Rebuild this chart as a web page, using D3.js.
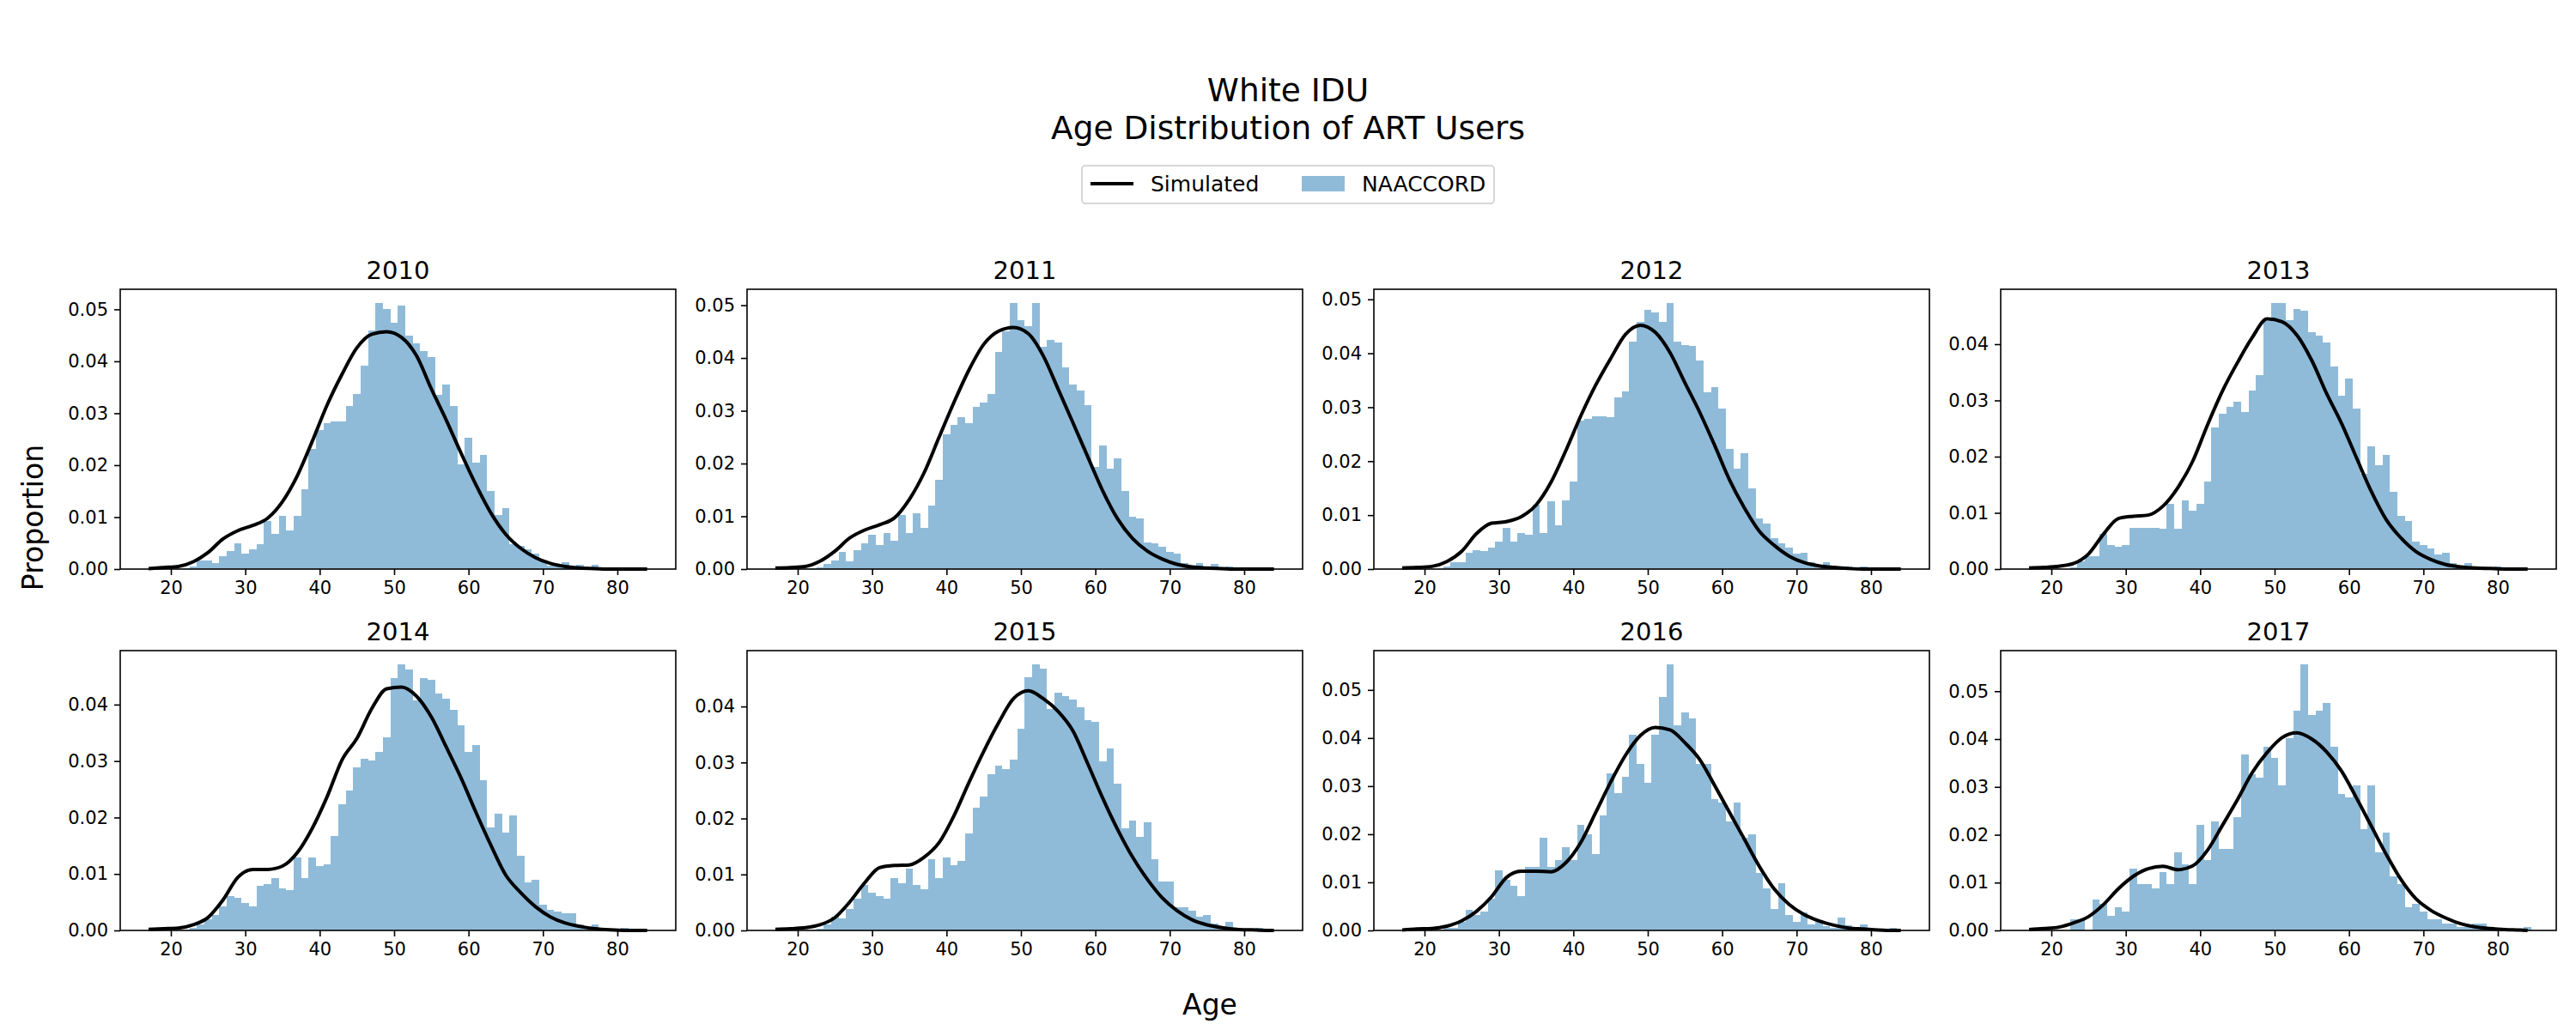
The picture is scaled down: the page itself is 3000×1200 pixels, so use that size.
<!DOCTYPE html>
<html>
<head>
<meta charset="utf-8">
<script src="https://cdn.jsdelivr.net/npm/d3@7"></script>
<style>
  body { margin: 0; background: #fff; }
  text { font-family: "DejaVu Sans", sans-serif; }
</style>
</head>
<body>
<div id="chart"></div>
<script>
// Years shown, one panel each
const years = [2010, 2011, 2012, 2013, 2014, 2015, 2016, 2017];

// Histogram bins (1-year, centred on the age)
const binAges = [18, 19, 20, 21, 22, 23, 24, 25, 26, 27,
                 28, 29, 30, 31, 32, 33, 34, 35, 36, 37,
                 38, 39, 40, 41, 42, 43, 44, 45, 46, 47,
                 48, 49, 50, 51, 52, 53, 54, 55, 56, 57,
                 58, 59, 60, 61, 62, 63, 64, 65, 66, 67,
                 68, 69, 70, 71, 72, 73, 74, 75, 76, 77,
                 78, 79, 80, 81, 82, 83, 84];

// NAACCORD proportions per age bin
const naaccord2010 = [0, 0, 0, 0, 0.0002, 0.0005, 0.0017, 0.0017, 0.0012, 0.0024,
                      0.0035, 0.0050, 0.0030, 0.0038, 0.0048, 0.0093, 0.0068, 0.0102, 0.0075, 0.0103,
                      0.0154, 0.0231, 0.0267, 0.0281, 0.0285, 0.0285, 0.0314, 0.0337, 0.0391, 0.0459,
                      0.0513, 0.0500, 0.0474, 0.0507, 0.0449, 0.0434, 0.0419, 0.0408, 0.0335, 0.0355,
                      0.0314, 0.0202, 0.0253, 0.0205, 0.0220, 0.0151, 0.0104, 0.0118, 0.0048, 0.0045,
                      0.0038, 0.0030, 0.0015, 0.0007, 0.0005, 0.0014, 0.0004, 0.0009, 0.0003, 0.0009,
                      0.0002, 0, 0, 0, 0, 0, 0];
const naaccord2011 = [0, 0, 0, 0, 0.0002, 0.0003, 0.0009, 0.0017, 0.0033, 0.0015,
                      0.0036, 0.0049, 0.0065, 0.0045, 0.0069, 0.0054, 0.0103, 0.0069, 0.0106, 0.0078,
                      0.0121, 0.0169, 0.0255, 0.0273, 0.0288, 0.0276, 0.0307, 0.0315, 0.0331, 0.0412,
                      0.0450, 0.0505, 0.0471, 0.0461, 0.0505, 0.0422, 0.0435, 0.0429, 0.0383, 0.0349,
                      0.0338, 0.0310, 0.0194, 0.0234, 0.0190, 0.0210, 0.0148, 0.0099, 0.0096, 0.0051,
                      0.0048, 0.0043, 0.0033, 0.0030, 0.0012, 0.0005, 0.0012, 0.0004, 0.0009, 0.0003,
                      0.0005, 0, 0, 0, 0, 0, 0];
const naaccord2012 = [0, 0, 0, 0, 0, 0.0005, 0.0012, 0.0012, 0.0030, 0.0035,
                      0.0034, 0.0039, 0.0051, 0.0077, 0.0051, 0.0067, 0.0064, 0.0119, 0.0067, 0.0126,
                      0.0081, 0.0127, 0.0162, 0.0275, 0.0278, 0.0284, 0.0284, 0.0281, 0.0318, 0.0330,
                      0.0422, 0.0459, 0.0481, 0.0475, 0.0459, 0.0494, 0.0422, 0.0416, 0.0413, 0.0386,
                      0.0327, 0.0337, 0.0297, 0.0223, 0.0186, 0.0215, 0.0149, 0.0094, 0.0084, 0.0057,
                      0.0048, 0.0039, 0.0028, 0.0031, 0.0012, 0.0007, 0.0012, 0.0004, 0.0003, 0.0004,
                      0.0003, 0.0005, 0, 0, 0, 0, 0];
const naaccord2013 = [0, 0, 0, 0, 0, 0.0003, 0.0014, 0.0023, 0.0023, 0.0062,
                      0.0043, 0.0040, 0.0043, 0.0074, 0.0074, 0.0074, 0.0074, 0.0071, 0.0116, 0.0071,
                      0.0122, 0.0104, 0.0116, 0.0156, 0.0252, 0.0276, 0.0288, 0.0297, 0.0279, 0.0317,
                      0.0345, 0.0441, 0.0474, 0.0474, 0.0442, 0.0462, 0.0459, 0.0421, 0.0415, 0.0403,
                      0.0360, 0.0308, 0.0339, 0.0285, 0.0169, 0.0218, 0.0185, 0.0203, 0.0138, 0.0095,
                      0.0086, 0.0049, 0.0043, 0.0037, 0.0026, 0.0029, 0.0011, 0.0005, 0.0011, 0.0004,
                      0.0004, 0.0003, 0.0005, 0, 0, 0, 0];
const naaccord2014 = [0, 0, 0, 0, 0, 0.0004, 0.0011, 0.0020, 0.0028, 0.0043,
                      0.0061, 0.0058, 0.0049, 0.0043, 0.0079, 0.0082, 0.0093, 0.0074, 0.0071, 0.0129,
                      0.0093, 0.0129, 0.0114, 0.0117, 0.0167, 0.0224, 0.0248, 0.0289, 0.0304, 0.0301,
                      0.0316, 0.0342, 0.0447, 0.0472, 0.0462, 0.0407, 0.0447, 0.0444, 0.0419, 0.0410,
                      0.0390, 0.0363, 0.0316, 0.0328, 0.0266, 0.0183, 0.0207, 0.0173, 0.0203, 0.0132,
                      0.0085, 0.0090, 0.0046, 0.0037, 0.0034, 0.0031, 0.0031, 0.0011, 0.0003, 0.0011,
                      0.0002, 0.0001, 0.0001, 0.0005, 0, 0, 0];
const naaccord2015 = [0, 0, 0, 0, 0, 0.0003, 0.0010, 0.0025, 0.0022, 0.0039,
                      0.0056, 0.0082, 0.0068, 0.0062, 0.0056, 0.0094, 0.0085, 0.0111, 0.0082, 0.0074,
                      0.0127, 0.0094, 0.0130, 0.0117, 0.0124, 0.0173, 0.0219, 0.0239, 0.0279, 0.0294,
                      0.0288, 0.0305, 0.0360, 0.0453, 0.0476, 0.0468, 0.0396, 0.0425, 0.0419, 0.0413,
                      0.0399, 0.0376, 0.0373, 0.0302, 0.0325, 0.0262, 0.0182, 0.0196, 0.0167, 0.0193,
                      0.0127, 0.0087, 0.0087, 0.0042, 0.0042, 0.0036, 0.0025, 0.0028, 0.0013, 0.0005,
                      0.0016, 0.0002, 0.0001, 0.0001, 0.0005, 0, 0];
const naaccord2016 = [0, 0, 0, 0, 0, 0.0005, 0.0006, 0.0018, 0.0043, 0.0033,
                      0.0040, 0.0066, 0.0125, 0.0105, 0.0093, 0.0072, 0.0132, 0.0132, 0.0193, 0.0132,
                      0.0147, 0.0173, 0.0147, 0.0220, 0.0200, 0.0159, 0.0239, 0.0326, 0.0285, 0.0319,
                      0.0406, 0.0346, 0.0307, 0.0406, 0.0486, 0.0554, 0.0426, 0.0453, 0.0440, 0.0346,
                      0.0346, 0.0273, 0.0266, 0.0226, 0.0266, 0.0193, 0.0200, 0.0120, 0.0087, 0.0045,
                      0.0098, 0.0033, 0.0018, 0.0038, 0.0013, 0.0022, 0.0009, 0.0006, 0.0026, 0.0011,
                      0.0006, 0.0013, 0.0001, 0, 0, 0.0006, 0];
const naaccord2017 = [0, 0, 0, 0, 0, 0.0024, 0.0024, 0, 0.0065, 0.0056,
                      0.0031, 0.0049, 0.0040, 0.0129, 0.0097, 0.0097, 0.0088, 0.0122, 0.0097, 0.0163,
                      0.0138, 0.0097, 0.0221, 0.0147, 0.0228, 0.0171, 0.0171, 0.0237, 0.0367, 0.0326,
                      0.0319, 0.0384, 0.0360, 0.0303, 0.0402, 0.0459, 0.0557, 0.0450, 0.0459, 0.0475,
                      0.0384, 0.0285, 0.0278, 0.0303, 0.0212, 0.0303, 0.0163, 0.0205, 0.0113, 0.0097,
                      0.0049, 0.0056, 0.0040, 0.0024, 0.0024, 0.0015, 0.0015, 0.0008, 0.0008, 0.0015,
                      0.0015, 0.0008, 0.0002, 0, 0, 0, 0.0008];

// Ages where the simulated density curve was read
const simAges = [17, 19, 21, 23, 25, 27, 29, 31, 33, 35, 37, 39, 41, 43, 45, 47, 49,
                 51, 53, 55, 57, 59, 61, 63, 65, 67, 69, 71, 73, 75, 77, 79, 81, 83, 84];

// Simulated density per year
const sim2010 = [0.0001, 0.0003, 0.0005, 0.0014, 0.0032, 0.0058, 0.0074, 0.0084, 0.0098, 0.0130, 0.0180, 0.0246,
                 0.0316, 0.0375, 0.0426, 0.0452, 0.0457, 0.0446, 0.0411, 0.0347, 0.0287, 0.0223, 0.0162, 0.0108,
                 0.0067, 0.0040, 0.0022, 0.0011, 0.0005, 0.0002, 0.0001, 0, 0, 0, 0];
const sim2011 = [0.0002, 0.0003, 0.0005, 0.0015, 0.0034, 0.0059, 0.0074, 0.0084, 0.0097, 0.0132, 0.0183, 0.0250,
                 0.0316, 0.0377, 0.0426, 0.0451, 0.0458, 0.0446, 0.0404, 0.0341, 0.0277, 0.0212, 0.0148, 0.0095,
                 0.0058, 0.0034, 0.0019, 0.0009, 0.0004, 0.0002, 0.0001, 0, 0, 0, 0];
const sim2012 = [0.0002, 0.0003, 0.0005, 0.0014, 0.0033, 0.0066, 0.0085, 0.0088, 0.0097, 0.0119, 0.0161, 0.0220,
                 0.0284, 0.0341, 0.0390, 0.0435, 0.0452, 0.0439, 0.0401, 0.0345, 0.0290, 0.0229, 0.0165, 0.0113,
                 0.0070, 0.0044, 0.0024, 0.0012, 0.0006, 0.0003, 0.0001, 0, 0, 0, 0];
const sim2013 = [0.0002, 0.0003, 0.0005, 0.0010, 0.0027, 0.0062, 0.0090, 0.0094, 0.0096, 0.0112, 0.0145, 0.0192,
                 0.0257, 0.0317, 0.0367, 0.0412, 0.0445, 0.0440, 0.0416, 0.0371, 0.0312, 0.0259, 0.0198, 0.0138,
                 0.0088, 0.0055, 0.0031, 0.0017, 0.0008, 0.0004, 0.0002, 0.0001, 0, 0, 0];
const sim2014 = [0.0002, 0.0003, 0.0004, 0.0010, 0.0023, 0.0054, 0.0094, 0.0108, 0.0108, 0.0114, 0.0138, 0.0181,
                 0.0237, 0.0302, 0.0340, 0.0393, 0.0428, 0.0431, 0.0415, 0.0378, 0.0325, 0.0270, 0.0209, 0.0151,
                 0.0098, 0.0067, 0.0042, 0.0024, 0.0013, 0.0007, 0.0003, 0.0001, 0, 0, 0];
const sim2015 = [0.0002, 0.0003, 0.0005, 0.0010, 0.0023, 0.0051, 0.0085, 0.0112, 0.0116, 0.0117, 0.0131, 0.0157,
                 0.0205, 0.0264, 0.0320, 0.0371, 0.0414, 0.0428, 0.0414, 0.0391, 0.0356, 0.0297, 0.0236, 0.0180,
                 0.0131, 0.0091, 0.0058, 0.0035, 0.0019, 0.0010, 0.0005, 0.0002, 0.0001, 0, 0];
const sim2016 = [0.0001, 0.0003, 0.0004, 0.0009, 0.0020, 0.0040, 0.0070, 0.0110, 0.0123, 0.0123, 0.0122, 0.0141,
                 0.0183, 0.0245, 0.0308, 0.0364, 0.0405, 0.0422, 0.0417, 0.0390, 0.0355, 0.0301, 0.0245, 0.0189,
                 0.0133, 0.0086, 0.0054, 0.0033, 0.0020, 0.0011, 0.0005, 0.0003, 0.0001, 0, 0];
const sim2017 = [0.0002, 0.0004, 0.0007, 0.0016, 0.0029, 0.0054, 0.0087, 0.0113, 0.0129, 0.0134, 0.0127, 0.0135,
                 0.0168, 0.0220, 0.0273, 0.0330, 0.0372, 0.0403, 0.0413, 0.0400, 0.0373, 0.0333, 0.0277, 0.0218,
                 0.0159, 0.0106, 0.0066, 0.0042, 0.0026, 0.0014, 0.0007, 0.0004, 0.0002, 0.0001, 0];

const xTicks = [20, 30, 40, 50, 60, 70, 80];

const naaccord = [naaccord2010, naaccord2011, naaccord2012, naaccord2013,
                  naaccord2014, naaccord2015, naaccord2016, naaccord2017];
const simulated = [sim2010, sim2011, sim2012, sim2013, sim2014, sim2015, sim2016, sim2017];

// Layout
const width = 3000;
const height = 1200;
const colLeft = [140, 870, 1600, 2330];
const rowTop = [337, 758];
const pw = 647;
const ph = 326;
const xDomain = [13.19, 87.85];
const barColor = '#1f77b4';

const svg = d3.select('#chart').append('svg')
    .attr('width', width)
    .attr('height', height)
    .style('background', '#fff');

// Figure title
svg.append('text')
    .attr('x', 1500).attr('y', 118)
    .attr('text-anchor', 'middle')
    .style('font-size', '37.5px')
    .text('White IDU');
svg.append('text')
    .attr('x', 1500).attr('y', 162)
    .attr('text-anchor', 'middle')
    .style('font-size', '37.5px')
    .text('Age Distribution of ART Users');

// Legend
const legend = svg.append('g');
legend.append('rect')
    .attr('x', 1260).attr('y', 193)
    .attr('width', 480).attr('height', 44)
    .attr('rx', 4)
    .attr('fill', '#fff')
    .attr('stroke', '#cccccc')
    .attr('stroke-width', 1.6);
legend.append('line')
    .attr('x1', 1270).attr('x2', 1320)
    .attr('y1', 214).attr('y2', 214)
    .attr('stroke', 'black')
    .attr('stroke-width', 4);
legend.append('text')
    .attr('x', 1340).attr('y', 223)
    .style('font-size', '25px')
    .text('Simulated');
legend.append('rect')
    .attr('x', 1516).attr('y', 205)
    .attr('width', 50).attr('height', 18)
    .attr('fill', barColor)
    .attr('fill-opacity', 0.5);
legend.append('text')
    .attr('x', 1586).attr('y', 223)
    .style('font-size', '25px')
    .text('NAACCORD');

// Shared axis labels
svg.append('text')
    .attr('x', 1409).attr('y', 1182)
    .attr('text-anchor', 'middle')
    .style('font-size', '33px')
    .text('Age');
svg.append('text')
    .attr('transform', 'translate(50,603) rotate(-90)')
    .attr('text-anchor', 'middle')
    .style('font-size', '33px')
    .text('Proportion');

years.forEach((year, i) => {
    const bars = naaccord[i];
    const sim = simulated[i];

    const g = svg.append('g')
        .attr('transform', 'translate(' + colLeft[i % 4] + ',' + rowTop[Math.floor(i / 4)] + ')');

    const x = d3.scaleLinear().domain(xDomain).range([0, pw]);

    const yMax = Math.max(d3.max(bars), d3.max(sim)) * 1.05;
    const y = d3.scaleLinear().domain([0, yMax]).range([ph, 0]);

    const yTicks = [];
    for (let k = 0; k * 0.01 <= yMax + 1e-9; k++) yTicks.push(k * 0.01);

    // histogram bars
    const barData = binAges.map((a, k) => ({ age: a, value: bars[k] })).filter(d => d.value > 0);
    g.selectAll('rect.bar')
        .data(barData)
        .join('rect')
        .attr('class', 'bar')
        .attr('x', d => x(d.age - 0.5))
        .attr('width', d => x(d.age + 0.5) - x(d.age - 0.5))
        .attr('y', d => y(d.value))
        .attr('height', d => ph - y(d.value))
        .attr('fill', barColor)
        .attr('fill-opacity', 0.5)
        .attr('shape-rendering', 'crispEdges');

    // simulated density line
    const line = d3.line()
        .x(d => x(d[0]))
        .y(d => y(d[1]))
        .curve(d3.curveMonotoneX);

    g.append('path')
        .datum(simAges.map((a, k) => [a, sim[k]]))
        .attr('d', line)
        .attr('fill', 'none')
        .attr('stroke', 'black')
        .attr('stroke-width', 4)
        .attr('stroke-linejoin', 'round');

    // axes
    const xAxis = g.append('g')
        .attr('transform', 'translate(0,' + ph + ')')
        .call(d3.axisBottom(x).tickValues(xTicks).tickSize(7).tickPadding(7).tickFormat(d3.format('d')));
    const yAxis = g.append('g')
        .call(d3.axisLeft(y).tickValues(yTicks).tickSize(7).tickPadding(7).tickFormat(d3.format('.2f')));

    [xAxis, yAxis].forEach(ax => {
        ax.select('.domain').remove();
        ax.attr('font-size', 21).attr('font-family', '"DejaVu Sans", sans-serif');
        ax.selectAll('line').attr('stroke', 'black').attr('stroke-width', 1.6);
        ax.selectAll('text').attr('fill', 'black');
    });

    // frame
    g.append('rect')
        .attr('width', pw)
        .attr('height', ph)
        .attr('fill', 'none')
        .attr('stroke', 'black')
        .attr('stroke-width', 1.6);

    // panel title
    g.append('text')
        .attr('x', pw / 2)
        .attr('y', -12)
        .attr('text-anchor', 'middle')
        .style('font-size', '29px')
        .text(year);
});
</script>
</body>
</html>
